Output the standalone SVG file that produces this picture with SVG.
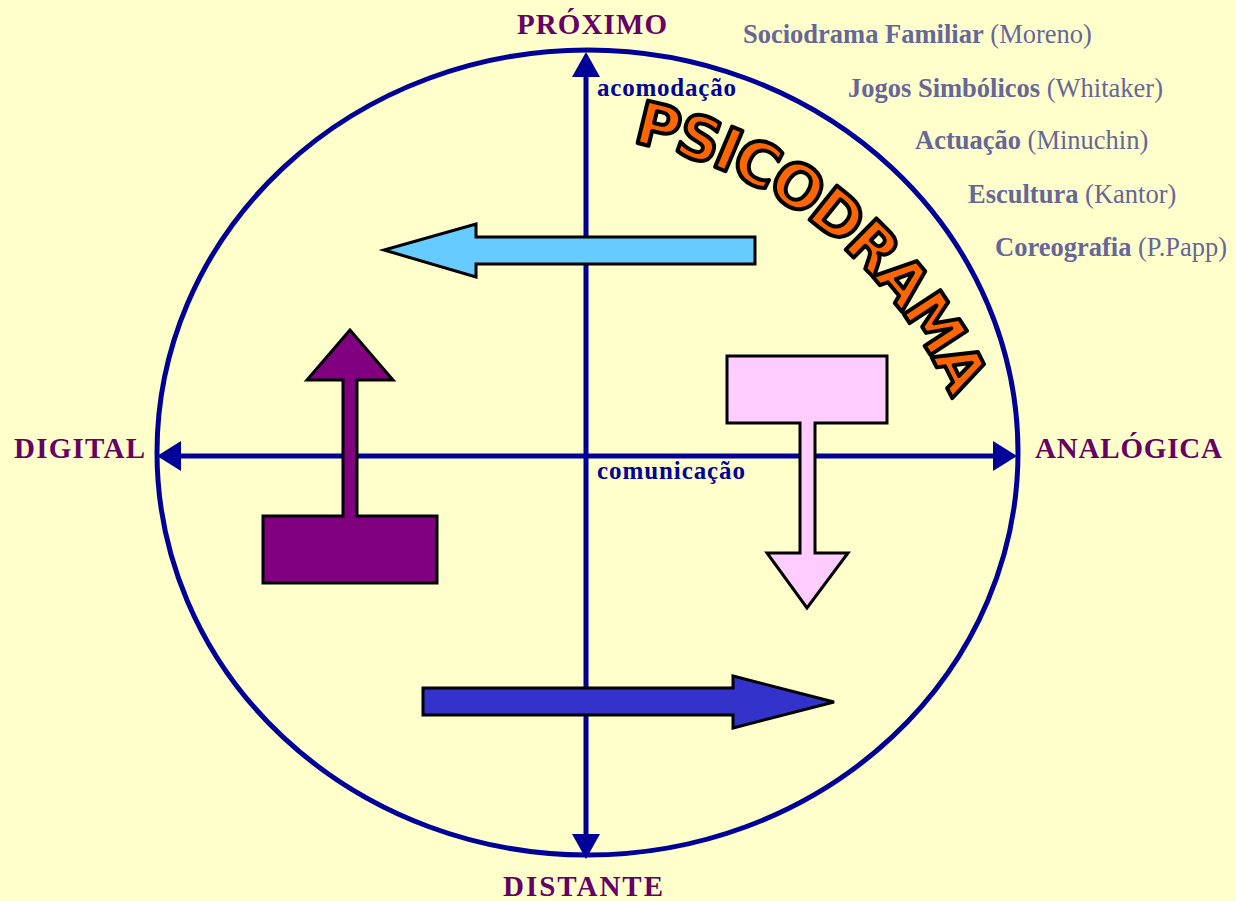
<svg xmlns="http://www.w3.org/2000/svg" width="1236" height="901" viewBox="0 0 1236 901">
<style>
.pole{font-family:"Liberation Serif","Times New Roman",serif;font-weight:bold;font-size:29px;fill:#660066}
.axl{font-family:"Liberation Serif","Times New Roman",serif;font-weight:bold;font-size:25px;fill:#000099}
.ref{font-family:"Liberation Serif","Times New Roman",serif;font-size:26.5px;fill:#666699}
.ref .b{font-weight:bold}
.axis{stroke:#000099;stroke-width:5;fill:none}
.head{fill:#000099}
.shape{stroke:#000;stroke-width:3;stroke-linejoin:miter}
.psico{font-family:"DejaVu Sans","Liberation Sans",sans-serif;font-weight:bold;font-size:60px;letter-spacing:-3px;fill:#FF6600;stroke:#000;stroke-width:4;stroke-linejoin:round}
</style>
<defs>
<path id="arcP" d="M 624.4 140.7 A 440 440 0 0 1 961.5 423.5"/>
</defs>
<rect x="0" y="0" width="1236" height="901" fill="#FFFFCC"/>
<g id="circle">
<ellipse cx="587.5" cy="452.5" rx="430.5" ry="402.5" class="axis"/>
</g>
<g id="connectors">
<line x1="586" y1="74" x2="586" y2="836" class="axis"/>
<polygon points="586,52 572,77 600,77" class="head"/>
<polygon points="586,859 572,834 600,834" class="head"/>
<line x1="178" y1="456" x2="996" y2="456" class="axis"/>
<polygon points="157,456 181,441 181,471" class="head"/>
<polygon points="1017,456 993,441 993,471" class="head"/>
</g>
<g id="labels">
<text class="pole" x="517" y="34" textLength="150" lengthAdjust="spacing">PRÓXIMO</text>
<text class="pole" x="14" y="458" textLength="131" lengthAdjust="spacing">DIGITAL</text>
<text class="pole" x="1035" y="458" textLength="187" lengthAdjust="spacing">ANALÓGICA</text>
<text class="pole" x="503" y="896" textLength="160" lengthAdjust="spacing">DISTANTE</text>
<text class="axl" x="597" y="96" textLength="139" lengthAdjust="spacing">acomodação</text>
<text class="axl" x="597" y="479" textLength="148" lengthAdjust="spacing">comunicação</text>
</g>
<g id="references">
<text class="ref" x="743" y="43"><tspan class="b">Sociodrama Familiar</tspan> (Moreno)</text>
<text class="ref" x="848" y="97"><tspan class="b">Jogos Simbólicos</tspan> (Whitaker)</text>
<text class="ref" x="915" y="149"><tspan class="b">Actuação</tspan> (Minuchin)</text>
<text class="ref" x="968" y="203"><tspan class="b">Escultura</tspan> (Kantor)</text>
<text class="ref" x="995" y="256"><tspan class="b">Coreografia</tspan> (P.Papp)</text>
</g>
<g id="psicodrama">
<text class="psico"><textPath href="#arcP" startOffset="8">PSICODRAMA</textPath></text>
</g>
<g id="arrow-left">
<polygon class="shape" fill="#66CCFF" points="755,237 476,237 476,224 384,250 476,277 476,264 755,264"/>
</g>
<g id="arrow-up">
<polygon class="shape" fill="#800080" points="350,330 307,380 343,380 343,516 263,516 263,583 437,583 437,516 357,516 357,380 393,380"/>
</g>
<g id="arrow-down">
<polygon class="shape" fill="#FFCCFF" points="727,356 887,356 887,423 815,423 815,553 848,553 807,608 767,553 800,553 800,423 727,423"/>
</g>
<g id="arrow-right">
<polygon class="shape" fill="#3333CC" points="423,688 733,688 733,676 834,702 733,728 733,715 423,715"/>
</g>
</svg>
